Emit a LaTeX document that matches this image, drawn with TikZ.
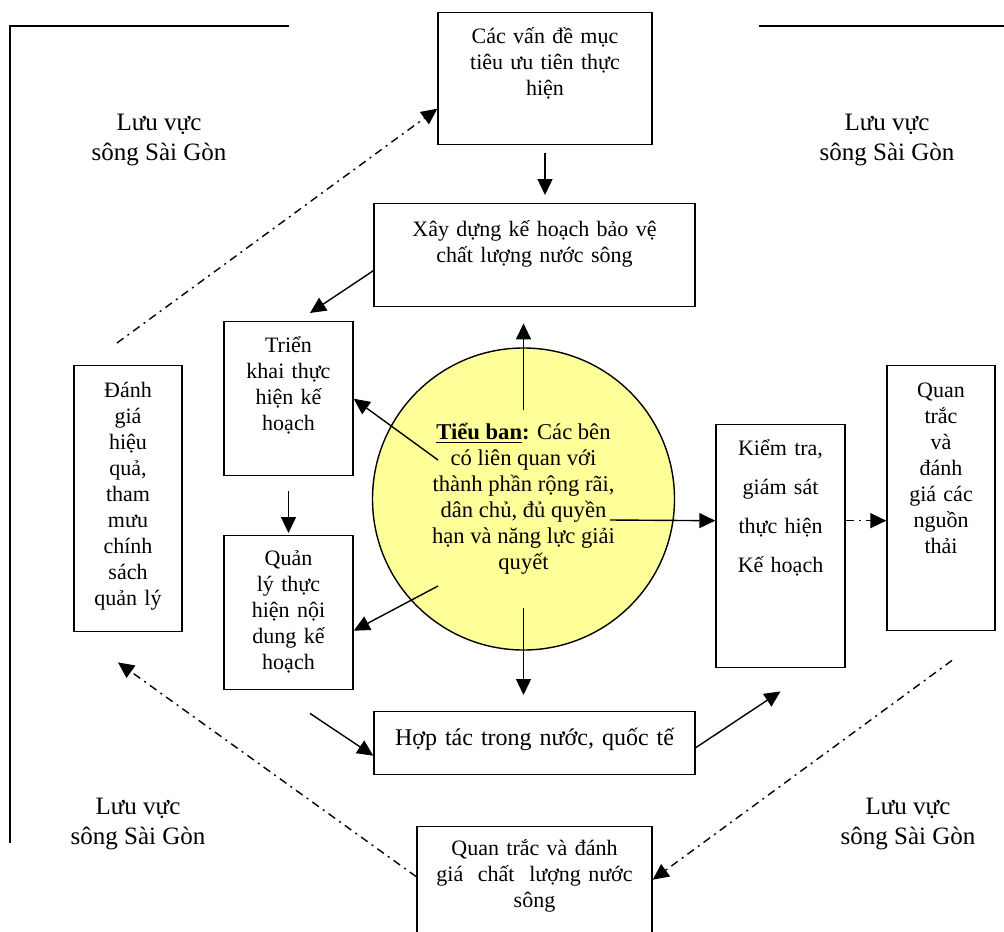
\documentclass[tikz,border=0pt]{standalone}
\usepackage{fontspec}
\setmainfont{Liberation Serif}
\usetikzlibrary{arrows.meta}
\definecolor{hubyellow}{HTML}{FFFF99}

\begin{document}
\begin{tikzpicture}
        [x=0.5pt, y=-0.5pt,
        panel/.style={draw, line width=0.7pt, anchor=north, align=center, inner sep=0pt,
            font=\fontsize{11}{13}\selectfont},
        hub/.style={circle, draw, line width=0.7pt, fill=hubyellow, minimum size=151pt,
            inner sep=0pt, align=center, font=\fontsize{11.3}{13}\selectfont},
        basin/.style={align=center, font=\fontsize{12.5}{15}\selectfont},
        arr/.style={line width=0.7pt, -{Triangle[length=8pt, width=7.5pt]}},
        dasharr/.style={line width=0.7pt, dash pattern=on 4pt off 2.5pt on 1pt off 2.5pt,
            -{Triangle[length=8pt, width=7.5pt]}},
        frame/.style={line width=0.8pt}]

        \useasboundingbox (0,0) rectangle (1004,931);

        % open frame round the basin
        \draw[frame] (289,26) -- (10,26) -- (10,843);
        \draw[frame] (759,26) -- (1004,26);

        % boxes, text set from the top edge
        \node[panel, text width=107pt, text height=15.5pt, text depth=50.5pt] (goals) at (545,12)
            {Các vấn đề mục\\tiêu ưu tiên thực\\hiện};
        \node[panel, text width=160.5pt, text height=16.5pt, text depth=35pt] (plan) at (534.5,203)
            {Xây dựng kế hoạch bảo vệ\\chất lượng nước sông};
        \node[panel, text width=64.5pt, text height=15.5pt, text depth=61.5pt] (deploy) at (288.5,321)
            {Triển\\khai thực\\hiện kế\\hoạch};
        \node[panel, text width=64.5pt, text height=15pt, text depth=62pt] (manage) at (288.5,535)
            {Quản\\lý thực\\hiện nội\\dung kế\\hoạch};
        \node[panel, text width=54pt, text height=16pt, text depth=117pt] (evaluate) at (128,365)
            {Đánh\\giá\\hiệu\\quả,\\tham\\mưu\\chính\\sách\\quản lý};
        \node[panel, text width=64.5pt, text height=15.5pt, text depth=106pt,
            font=\fontsize{11}{19.5}\selectfont] (check) at (780.5,424)
            {Kiểm tra,\\giám sát\\thực hiện\\Kế hoạch};
        \node[panel, text width=54pt, text height=16pt, text depth=116.5pt] (sources) at (941,365)
            {Quan\\trắc\\và\\đánh\\giá các\\nguồn\\thải};
        \node[panel, text width=160.5pt, text height=17pt, text depth=14.5pt,
            font=\fontsize{12}{13}\selectfont] (coop) at (534.5,711)
            {Hợp tác trong nước, quốc tế};
        \node[panel, text width=117.5pt, text height=14.5pt, text depth=45pt] (water) at (534.5,826)
            {Quan trắc và đánh\\giá~ chất~ lượng nước\\sông};

        % the committee in the middle
        \node[hub] (hub) at (523.5,499)
            {\textbf{\underline{Tiểu ban}:} Các bên\\có liên quan với\\thành phần rộng rãi,\\dân chủ, đủ quyền\\hạn và năng lực giải\\quyết};

        % basin labels in the four corners
        \node[basin] (basinNW) at (159,140) {Lưu vực\\sông Sài Gòn};
        \node[basin] (basinNE) at (887,140) {Lưu vực\\sông Sài Gòn};
        \node[basin] (basinSW) at (138,824) {Lưu vực\\sông Sài Gòn};
        \node[basin] (basinSE) at (908,824) {Lưu vực\\sông Sài Gòn};

        % solid arrows
        \draw[arr, shorten <=4pt, shorten >=4pt] (goals.south) -- (goals.south |- plan.north);
        \draw[arr] ([yshift=-7.75pt]plan.west) -- ([xshift=10.75pt, yshift=4pt]deploy.north);
        \draw[arr, shorten <=7.5pt, shorten >=1pt] (deploy.south) -- (manage.north);
        \draw[arr, shorten >=8pt] ([yshift=44.5pt]hub.center) -- (hub.center |- plan.south);
        \draw[arr] ([xshift=-42.75pt, yshift=19.5pt]hub.center) -- (deploy.east);
        \draw[arr] ([xshift=-42.75pt, yshift=-43.5pt]hub.center) -- ([yshift=-9pt]manage.east);
        \draw[arr] ([xshift=43.25pt, yshift=-10.5pt]hub.center) -- ([yshift=12.75pt]check.west);
        \draw[arr, shorten >=8pt] ([yshift=-54.5pt]hub.center) -- (hub.center |- coop.north);
        \draw[arr] ([xshift=10.75pt, yshift=-11.5pt]manage.south) -- ([yshift=-6.25pt]coop.west);
        \draw[arr] ([yshift=-2.25pt]coop.east) -- ([yshift=-11.5pt]check.south);

        % dash-dot arrows
        \coordinate (chkout) at ([yshift=12.75pt]check.east);
        \draw[dasharr] (chkout) -- (chkout -| sources.west);
        \draw[dasharr] ([xshift=-5.5pt, yshift=11pt]evaluate.north) -- ([yshift=-15pt]goals.west);
        \draw[dasharr] ([yshift=4.75pt]water.west) -- ([xshift=-5pt, yshift=-15pt]evaluate.south);
        \draw[dasharr] ([xshift=5.5pt, yshift=-14.5pt]sources.south) -- ([yshift=3.25pt]water.east);
\end{tikzpicture}
\end{document}
